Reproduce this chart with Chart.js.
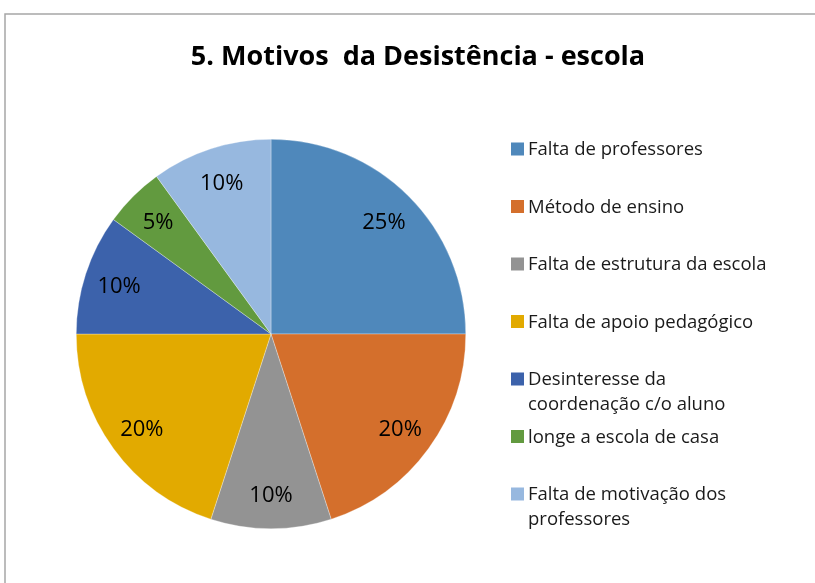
<!DOCTYPE html>
<html>
<head>
<meta charset="utf-8">
<script src="https://cdn.jsdelivr.net/npm/chart.js@4/dist/chart.umd.min.js"></script>
<style>
  html, body { margin: 0; padding: 0; background: #fff; }
  #wrap { position: relative; width: 815px; height: 583px; }
</style>
</head>
<body>
<div id="wrap"><canvas id="chart" width="815" height="583"></canvas></div>
<script>
const chartTitle = '5. Motivos  da Desistência - escola';
const categories = [
    'Falta de professores',
    'Método de ensino',
    'Falta de estrutura da escola',
    'Falta de apoio pedagógico',
    ['Desinteresse da', 'coordenação c/o aluno'],
    'longe a escola de casa',
    ['Falta de motivação dos', 'professores']
];
const percentages = [25, 20, 10, 20, 10, 5, 10];
const sliceColors = ['#4F88BB', '#D46F2C', '#939393', '#E2AA00', '#3C62AB', '#629A3F', '#97B8DF'];

const FONT = '"Open Sans", Lato, sans-serif';

// border, title, slice labels and the legend drawn by hand
const decorPlugin = {
    id: 'decor',
    beforeDraw: (chart) => {
        const { ctx } = chart;
        ctx.save();
        ctx.strokeStyle = '#a6a6a6';
        ctx.lineWidth = 1.5;
        ctx.beginPath();
        ctx.moveTo(5, 583);
        ctx.lineTo(5, 14);
        ctx.lineTo(815, 14);
        ctx.stroke();
        ctx.restore();
    },
    afterDraw: (chart) => {
        const { ctx } = chart;
        ctx.save();

        // title
        ctx.font = `bold 27px ${FONT}`;
        ctx.fillStyle = '#000';
        ctx.textAlign = 'center';
        ctx.textBaseline = 'middle';
        ctx.fillText(chartTitle, 418, 57);

        // percentage labels inside slices
        ctx.font = `22px ${FONT}`;
        chart.getDatasetMeta(0).data.forEach((arc, i) => {
            const p = arc.getProps(['x', 'y', 'startAngle', 'endAngle', 'outerRadius'], true);
            const mid = (p.startAngle + p.endAngle) / 2;
            const r = p.outerRadius * 0.82;
            ctx.fillText(percentages[i] + '%', p.x + Math.cos(mid) * r, p.y + Math.sin(mid) * r + 2);
        });

        // legend
        ctx.font = `18.5px ${FONT}`;
        ctx.textAlign = 'left';
        categories.forEach((label, i) => {
            const y = 149 + i * 57.5;
            ctx.fillStyle = sliceColors[i];
            ctx.fillRect(511, y - 6.5, 13, 13);
            ctx.fillStyle = '#1a1a1a';
            const lines = Array.isArray(label) ? label : [label];
            lines.forEach((line, j) => ctx.fillText(line, 528, y + 1 + j * 25));
        });
        ctx.restore();
    }
};

new Chart(document.getElementById('chart'), {
    type: 'pie',
    plugins: [decorPlugin],
    data: {
        labels: categories.map(c => Array.isArray(c) ? c.join(' ') : c),
        datasets: [{
            data: percentages,
            backgroundColor: sliceColors,
            borderColor: 'rgba(255,255,255,0.6)',
            borderWidth: 0.5
        }]
    },
    options: {
        responsive: false,
        animation: false,
        layout: { padding: { left: 76, right: 349, top: 139, bottom: 54 } },
        plugins: {
            legend: { display: false },
            title: { display: false },
            tooltip: { enabled: false }
        }
    }
});
</script>
</body>
</html>
